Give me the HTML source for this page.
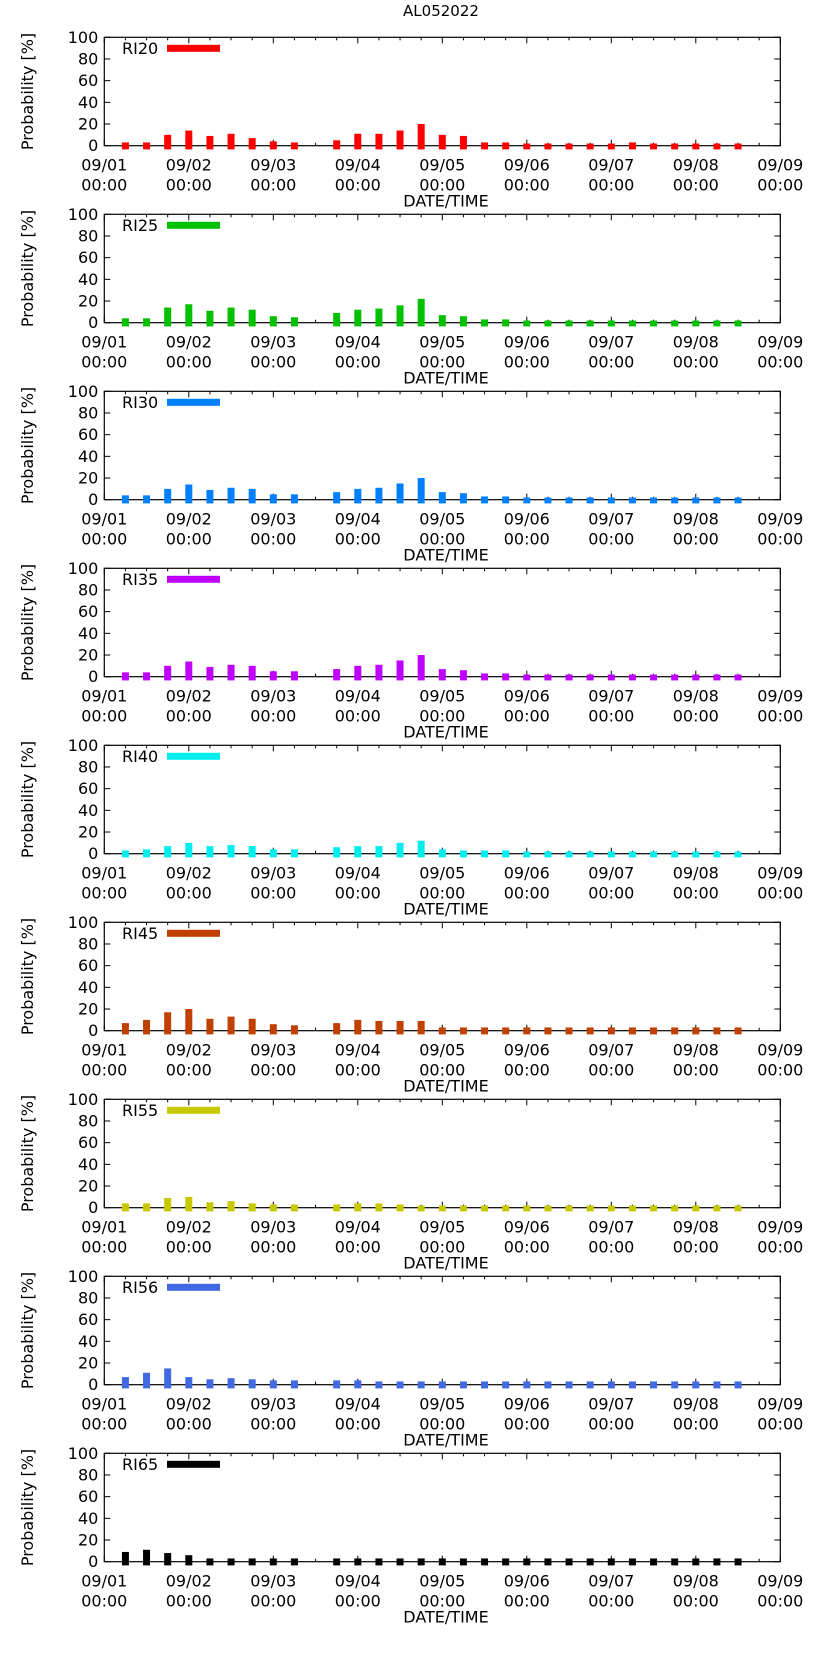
<!DOCTYPE html>
<html><head><meta charset="utf-8"><style>
html,body{margin:0;padding:0;background:#fff;}
svg text{font-family:"DejaVu Sans","Liberation Sans",sans-serif;fill:#000;}
</style></head><body>
<svg id="chart" width="822" height="1653" xmlns="http://www.w3.org/2000/svg">
<text x="441" y="16" font-size="15" text-anchor="middle">AL052022</text>
</svg>
<script>
const seriesNames = ["RI20","RI25","RI30","RI35","RI40","RI45","RI55","RI56","RI65"];
const seriesColors = ["#ff0000","#00c000","#0080ff","#c000ff","#00eeee","#c04000","#c8c800","#4169e1","#000000"];
const barHours = [6,12,18,24,30,36,42,48,54,66,72,78,84,90,96,102,108,114,120,126,132,138,144,150,156,162,168,174,180];
const v20 = [3,3,10,14,9,11,7,4,3, 5,11,11,14,20,10,9,3,3,2,2,2,2,2,3,2,2,2,2,2];
const v25 = [4,4,14,17,11,14,12,6,5, 9,12,13,16,22,7,6,3,3,2,2,2,2,2,2,2,2,2,2,2];
const v30 = [4,4,10,14,9,11,10,5,5, 7,10,11,15,20,7,6,3,3,2,2,2,2,2,2,2,2,2,2,2];
const v35 = [4,4,10,14,9,11,10,5,5, 7,10,11,15,20,7,6,3,3,2,2,2,2,2,2,2,2,2,2,2];
const v40 = [3,4,7,10,7,8,7,4,4, 6,7,7,10,12,4,3,3,3,2,2,2,2,2,2,2,2,2,2,2];
const v45 = [7,10,17,20,11,13,11,6,5, 7,10,9,9,9,3,3,3,3,3,3,3,3,3,3,3,3,3,3,3];
const v55 = [4,4,9,10,5,6,4,3,3, 3,4,4,3,2,2,2,2,2,2,2,2,2,2,2,2,2,2,2,2];
const v56 = [7,11,15,7,5,6,5,4,4, 4,4,3,3,3,3,3,3,3,3,3,3,3,3,3,3,3,3,3,3];
const v65 = [9,11,8,6,3,3,3,3,3, 3,3,3,3,3,3,3,3,3,3,3,3,3,3,3,3,3,3,3,3];
const seriesValues = [v20,v25,v30,v35,v40,v45,v55,v56,v65];
const yTicks = [0,20,40,60,80,100];
const xTickDays = ["09/01","09/02","09/03","09/04","09/05","09/06","09/07","09/08","09/09"];

const NS="http://www.w3.org/2000/svg";
const svg=document.getElementById('chart');
const L=104.3,R=780.3,PH=108.4,PITCH=177,TOP0=37.3;
function xScale(h){return L+(R-L)*h/192;}
function mk(tag,attrs,parent){const e=document.createElementNS(NS,tag);for(const k in attrs)e.setAttribute(k,attrs[k]);(parent||svg).appendChild(e);return e;}

seriesNames.forEach((name,i)=>{
  const top=TOP0+i*PITCH, bot=top+PH;
  const yScale=v=>bot-PH*v/100;
  const g=mk('g',{});
  
  
  // frame
  const f=mk('rect',{x:L,y:top,width:R-L,height:PH,fill:'none',stroke:'#000','stroke-width':1.2},g);
  
  
  // y ticks
  yTicks.forEach(t=>{
    const y=yScale(t);
    mk('line',{x1:L,x2:L+6,y1:y,y2:y,stroke:'#000'},g);
    mk('line',{x1:R-6,x2:R,y1:y,y2:y,stroke:'#000'},g);
    const tx=mk('text',{x:L-6,y:y+5.5,'font-size':16,'text-anchor':'end'},g);
    tx.textContent=t;
    
    
  });
  // x ticks
  for(let h=0;h<=192;h+=6){
    const x=xScale(h), len=(h%24===0)?6:3;
    mk('line',{x1:x,x2:x,y1:bot,y2:bot-len,stroke:'#000'},g);
    mk('line',{x1:x,x2:x,y1:top,y2:top+len,stroke:'#000'},g);
  }
  // bars (drawn over axis/ticks)
  seriesValues[i].forEach((v,j)=>{
    const x=xScale(barHours[j]);
    const b=mk('rect',{x:x-3.5,y:yScale(v),width:7,height:bot+3.7-yScale(v),fill:seriesColors[i]},g);
    
    
  });
  xTickDays.forEach((d,k)=>{
    const x=xScale(k*24);
    const t1=mk('text',{x:x,y:bot+25,'font-size':16,'text-anchor':'middle'},g);
    t1.textContent=d;
    
    
    const t2=mk('text',{x:x,y:bot+45,'font-size':16,'text-anchor':'middle'},g);
    t2.textContent='00:00';
    
    
  });
  const xl=mk('text',{x:446,y:bot+61,'font-size':16,'text-anchor':'middle'},g);
  xl.textContent='DATE/TIME';
  
  
  const yl=mk('text',{x:0,y:0,'font-size':16,'text-anchor':'middle',transform:'translate(33,'+(top+PH/2)+') rotate(-90)'},g);
  yl.textContent='Probability [%]';
  
  
  // legend
  const lt=mk('text',{x:122,y:top+16.5,'font-size':16},g);
  lt.textContent=name;
  
  
  const ll=mk('rect',{x:167,y:top+7.5,width:53,height:7,fill:seriesColors[i]},g);
  
  
});
</script>
</body></html>
